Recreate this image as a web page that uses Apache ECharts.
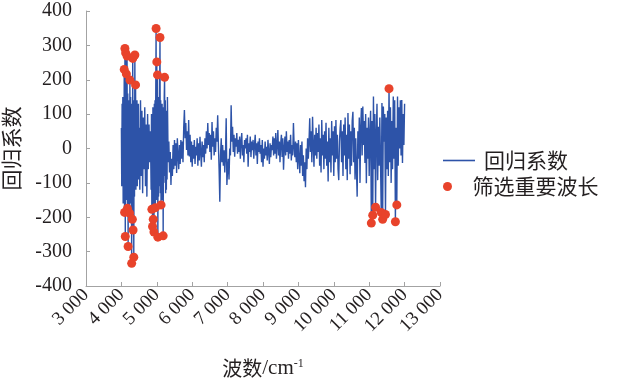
<!DOCTYPE html>
<html><head><meta charset="utf-8">
<script src="https://cdn.jsdelivr.net/npm/echarts@6/dist/echarts.min.js"></script>
<style>html,body{margin:0;padding:0;background:#fff}#c{width:618px;height:384px}</style>
</head><body><div id="c"></div>
<script>
// Wavenumbers (cm-1) of the regression-coefficient curve
const wavenumber = [
4000,4010,4020,4030,4040,4050,4060,4070,4080,4090,
4100,4110,4120,4130,4140,4150,4160,4170,4180,4190,
4200,4210,4220,4230,4240,4250,4260,4270,4280,4290,
4300,4310,4320,4330,4340,4350,4360,4370,4380,4390,
4400,4410,4420,4430,4440,4450,4460,4470,4480,4490,
4500,
4520,4540,4560,4580,4600,4620,4640,4660,4680,4700,4720,4740,4760,4780,4800,4820,4840,
4850,4860,4870,4880,4890,4900,4910,4920,4930,4940,
4950,4960,4970,4980,4990,5000,5010,5020,5030,5040,
5050,5060,5070,5080,5090,5100,5110,5120,5130,5140,
5150,5160,5170,5180,5190,5200,5210,5220,5230,5240,
5250,5260,5270,5280,5290,5300,
5320,5340,5360,5380,5400,5420,5440,5460,5480,5500,
5520,5540,5560,5580,5600,5620,5640,5660,5680,5700,
5720,5740,5760,5780,5800,5820,5840,5860,5880,5900,
5920,5940,5960,5980,6000,6020,6040,6060,6080,6100,
6120,6140,6160,6180,6200,6220,6240,6260,6280,6300,
6320,6340,6360,6380,6400,6420,6440,6460,6480,6500,
6520,6540,6560,6580,6600,6620,6640,6660,6680,6700,
6720,6740,6760,6780,6800,6820,6840,6860,6880,6900,
6920,6940,6960,6980,7000,7020,7040,7060,7080,7100,
7120,7140,7160,7180,7200,7220,7240,7260,7280,7300,
7320,7340,7360,7380,7400,7420,7440,7460,7480,7500,
7520,7540,7560,7580,7600,7620,7640,7660,7680,7700,
7720,7740,7760,7780,7800,7820,7840,7860,7880,7900,
7920,7940,7960,7980,8000,8020,8040,8060,8080,8100,
8120,8140,8160,8180,8200,8220,8240,8260,8280,8300,
8320,8340,8360,8380,8400,8420,8440,8460,8480,8500,
8520,8540,8560,8580,8600,8620,8640,8660,8680,8700,
8720,8740,8760,8780,8800,8820,8840,8860,8880,8900,
8920,8940,8960,8980,9000,9020,9040,9060,9080,9100,
9120,9140,9160,9180,9200,9220,9240,9260,9280,9300,
9320,9340,9360,9380,9400,9420,9440,9460,9480,9500,
9520,9540,9560,9580,9600,9620,9640,9660,9680,9700,
9720,9740,9760,9780,9800,9820,9840,9860,9880,9900,
9920,9940,9960,9980,10000,10020,10040,10060,10080,10100,
10120,10140,10160,10180,10200,10220,10240,10260,10280,10300,
10320,10340,10360,10380,10400,10420,10440,10460,10480,10500,
10520,10540,10560,10580,10600,10620,10640,10660,10680,10700,
10720,10740,10760,10780,10800,10820,10840,10860,10880,10900,
10920,10940,10960,10980,11000,11020,11040,11060,11080,11100,
11120,11140,11160,11180,11200,11220,11240,11260,11280,11300,
11320,11340,11360,11380,11400,11420,11440,11460,11480,11500,
11520,11540,11560,11580,11600,11620,11640,11660,11680,11700,
11720,11740,11760,11780,11800,11820,11840,11860,11880,11900,
11920,11940,11960,11980,12000
];

// Regression coefficients
const coefficient = [
60,-110,130,-90,150,-160,110,-130,230,-186,
291,-256,278,-120,217,-150,269,-174,160,-285,
140,-130,120,-188,199,-90,150,-160,110,-334,
130,-206,262,-237,140,-316,120,-140,272,-100,
185,-120,90,-80,140,-110,100,-60,130,-90,
60,
-120,140,-80,110,-130,90,-60,120,-110,70,-140,100,-60,70,-40,50,-120,
100,-177,100,-227,120,-206,90,-243,130,-100,
140,-172,150,349,-150,252,-120,214,-258,150,
-140,120,-110,160,323,-130,140,-164,110,-120,
130,-150,100,-254,120,-100,150,207,-80,140,
-130,100,-120,110,-90,150,
-40,20,-70,-10,-106,-30,-80,10,-60,25,
-50,15,-71,30,-20,-60,10,-45,25,-30,
20,-40,60,112,30,74,-4,50,-20,83,
-23,40,-40,20,-53,10,-30,25,-45,5,
-20,30,-50,15,-35,34,-10,-53,20,-25,
10,-40,30,-15,50,0,74,10,45,-10,
40,-33,77,5,50,-20,30,-10,60,20,
97,10,-60,-155,-20,30,-40,10,-50,-5,
-70,-20,88,-106,-60,-30,-90,0,-20,126,
20,63,-10,40,-24,30,5,45,-15,25,
-10,35,-30,20,45,-20,10,-40,25,0,
30,-15,40,-53,15,-10,35,-25,20,-5,
25,-30,10,40,-20,15,-45,20,-10,30,
-15,10,-40,25,-53,0,-30,20,-20,5,
-35,25,-10,-45,15,-25,10,-5,35,-20,
30,-15,45,-30,10,54,-20,20,-40,15,
40,-25,30,-62,0,35,-20,50,-10,20,
-30,25,-15,40,-35,10,-20,74,5,-25,
20,-40,15,-60,25,-30,-72,10,-50,20,
-80,-20,-95,-40,-113,0,-60,30,-30,20,
88,-10,50,-40,92,10,-53,40,-20,60,
-30,45,-10,70,-50,30,-70,83,-20,40,
-60,50,-30,75,-50,20,-96,60,-40,30,
-70,80,-20,50,-80,65,-40,83,-30,40,
-60,-92,20,60,83,-40,50,-80,70,-20,
90,-60,40,-92,103,-30,70,-75,50,-50,
80,107,-40,60,-90,30,-60,-140,50,-30,
90,-100,60,118,-20,122,10,80,-42,100,
-101,60,-30,90,-80,40,110,-217,80,-194,
151,-60,100,-171,40,130,-92,63,-50,90,
-40,-186,132,-206,122,20,100,-192,90,-60,
110,-80,174,-40,120,-100,80,-60,151,-30,
140,-213,60,-164,151,-50,120,0,140,-20,
141,-42,100,10,130
];

// Selected important wavenumbers (red dots)
const selectedWavenumber = [
4080,4090,4100,4110,4120,4140,4160,4170,4190,4230,4240,4290,4310,4320,4330,4350,4380,4400,
4860,4880,4900,4920,4960,4980,5000,5020,5030,5090,5120,5180,5220,
11060,11100,11180,11340,11380,11460,11560,11740,11780
];

const xTickLabels = ['3 000','4 000','5 000','6 000','7 000','8 000','9 000','10 000','11 000','12 000','13 000'];
const yTickLabels = ['-400','-300','-200','-100','0','100','200','300','400'];
const seriesNames = ['回归系数','筛选重要波长'];

if (wavenumber.length !== coefficient.length) console.error('length mismatch', wavenumber.length, coefficient.length);

const lineData = wavenumber.map((w, i) => [w, coefficient[i]]);
const dotData = selectedWavenumber.map(w => [w, coefficient[wavenumber.indexOf(w)]]);

const TXT = '#231f20';
const AX = '#a3a3a3';
const BLUE = '#2d53a8';
const RED = '#e8432b';
const legendText = {fontFamily: 'Noto Sans CJK SC', fontSize: 21, color: TXT, padding: [0, 0, 0, 4]};
const chart = echarts.init(document.getElementById('c'), null, {renderer: 'canvas'});
chart.setOption({
  animation: false,
  backgroundColor: '#fff',
  grid: {left: 86, right: 178, top: 11, bottom: 98, containLabel: false, outerBoundsMode: 'none'},
  legend: [
    {data: [{name: seriesNames[0], icon: 'path://M0 0H32V1.6H0Z'}], left: 443, top: 150, padding: 0,
     itemWidth: 32, itemHeight: 14, textStyle: legendText},
    {data: [{name: seriesNames[1], icon: 'circle'}], left: 443, top: 176, padding: 0,
     itemWidth: 32, itemHeight: 9, textStyle: legendText}
  ],
  xAxis: {
    type: 'value', min: 3000, max: 13000, interval: 1000,
    axisLine: {show: true, onZero: false, lineStyle: {color: AX, width: 1}},
    axisTick: {show: true, inside: true, length: 4, lineStyle: {color: AX}},
    splitLine: {show: false},
    axisLabel: {rotate: 45, margin: 6, fontFamily: 'Liberation Serif', fontSize: 19, color: TXT,
      formatter: v => xTickLabels[Math.round((v - 3000) / 1000)]},
    name: '{cn|波数}{en|/cm}{sup|-1}', nameLocation: 'middle', nameGap: 72,
    nameTextStyle: {rich: {
      cn: {fontFamily: 'Noto Sans CJK SC', fontSize: 20, color: TXT},
      en: {fontFamily: 'Liberation Serif', fontSize: 21, color: TXT},
      sup: {fontFamily: 'Liberation Serif', fontSize: 12, color: TXT, verticalAlign: 'top'}
    }}
  },
  yAxis: {
    type: 'value', min: -400, max: 400, interval: 100,
    axisLine: {show: true, onZero: false, lineStyle: {color: AX, width: 1}},
    axisTick: {show: true, inside: true, length: 4, lineStyle: {color: AX}},
    splitLine: {show: false},
    axisLabel: {margin: 14, fontFamily: 'Liberation Serif', fontSize: 20, color: TXT,
      formatter: v => yTickLabels[Math.round((v + 400) / 100)]},
    name: seriesNames[0], nameLocation: 'middle', nameGap: 64, nameRotate: 90,
    nameTextStyle: {fontFamily: 'Noto Sans CJK SC', fontSize: 21, color: TXT}
  },
  series: [
    {name: seriesNames[0], type: 'line', data: lineData, symbol: 'none', showSymbol: false,
     lineStyle: {color: BLUE, width: 1.4}, itemStyle: {color: BLUE}, z: 2},
    {name: seriesNames[1], type: 'scatter', data: dotData, symbol: 'circle', symbolSize: 9,
     itemStyle: {color: RED, opacity: 1}, z: 3}
  ]
});
</script></body></html>
